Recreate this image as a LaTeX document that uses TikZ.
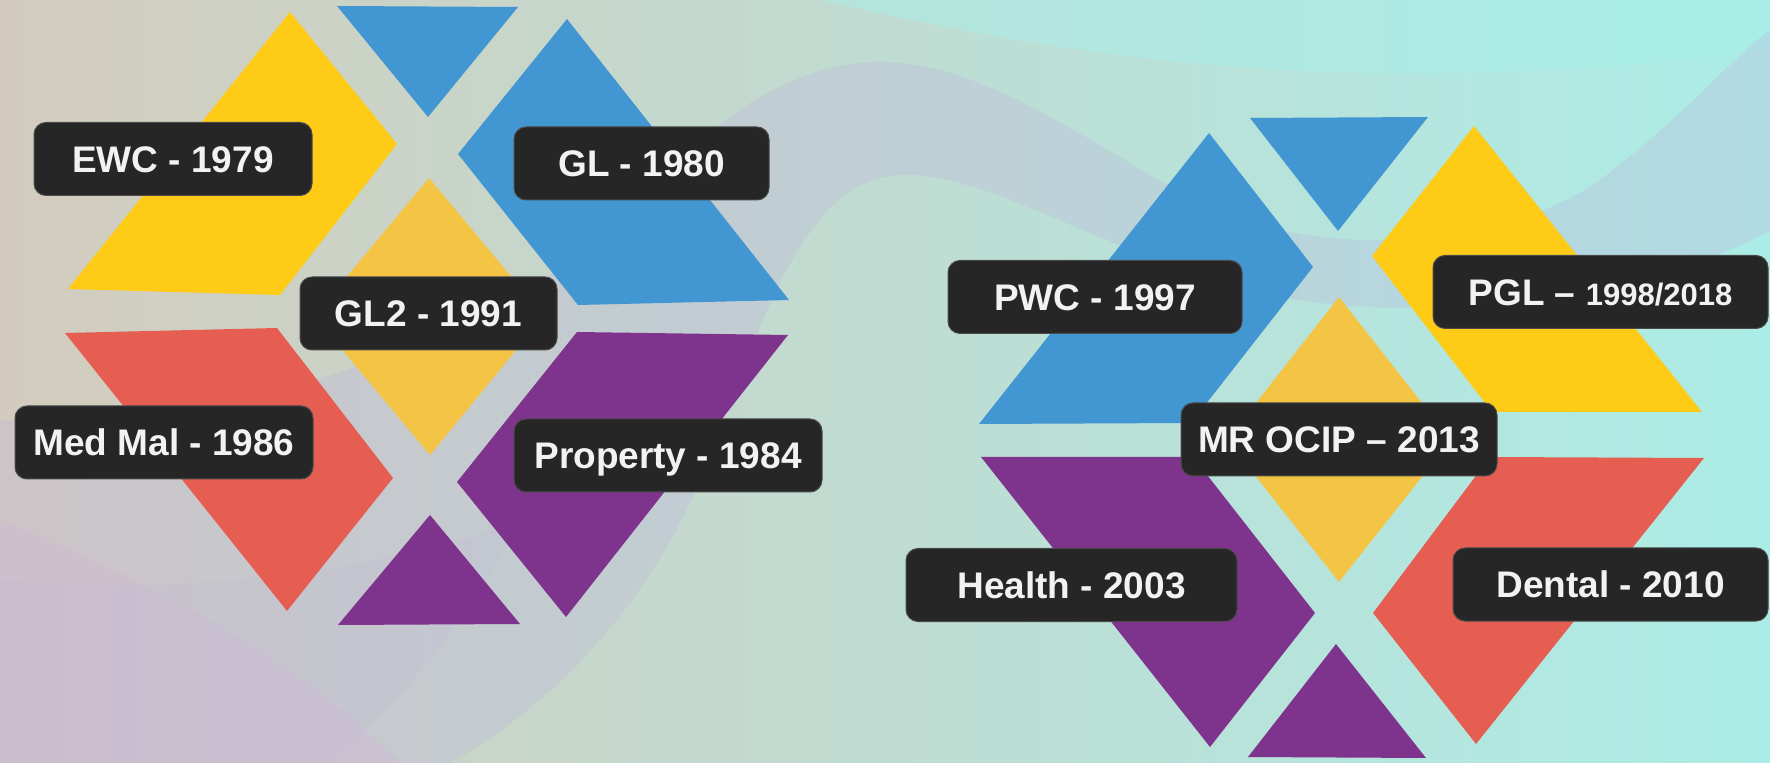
\documentclass[tikz,border=0pt]{standalone}
\usepackage{fontspec}
\setmainfont{Liberation Sans}
\definecolor{cYel}{HTML}{FECB17}
\definecolor{cLYel}{HTML}{F4C545}
\definecolor{cBlue}{HTML}{4296D2}
\definecolor{cRed}{HTML}{E65E52}
\definecolor{cPur}{HTML}{7E338C}
\definecolor{cLbl}{HTML}{262626}
\definecolor{cLblB}{HTML}{4A4A4A}
\definecolor{cTxt}{HTML}{F2F2F2}
\definecolor{bgL}{HTML}{D3CCBE}
\definecolor{bgM}{HTML}{C3DCD1}
\definecolor{bgR}{HTML}{ACECE6}
\definecolor{bgLav}{HTML}{BDB4DE}
\definecolor{bgPink}{HTML}{D9BCD0}
\definecolor{bgCyan}{HTML}{A6F0EA}
\tikzset{
  lbl/.style={fill=cLbl, draw=cLblB, line width=0.5pt, rounded corners=6pt,
    text=cTxt, font=\bfseries\fontsize{18.5}{22}\selectfont,
    minimum height=36.5pt, text height=13.2pt, text depth=0pt,
    inner sep=0pt, anchor=center},
  ribbon/.style={fill=bgLav, fill opacity=0.3}
}
\begin{document}
\begin{tikzpicture}[x=0.5pt,y=-0.5pt]
\useasboundingbox (0,0) rectangle (1770,763);
% background
\shade[left color=bgL, middle color=bgM, right color=bgR] (0,0) rectangle (1770,763);
\fill[bgCyan, fill opacity=0.45] (820,0) .. controls (1000,40) and (1300,110) .. (1770,50) -- (1770,0) -- cycle;
\fill[bgPink, fill opacity=0.4] (0,520) .. controls (150,580) and (300,660) .. (400,763) -- (0,763) -- cycle;
\fill[ribbon] (0,420) .. controls (250,430) and (520,330) .. (640,200)
  .. controls (720,110) and (800,62) .. (880,62)
  .. controls (1000,62) and (1120,170) .. (1230,215)
  .. controls (1330,255) and (1500,250) .. (1600,180)
  .. controls (1680,120) and (1730,60) .. (1770,30)
  -- (1770,230)
  .. controls (1650,300) and (1400,330) .. (1250,290)
  .. controls (1100,250) and (980,170) .. (900,175)
  .. controls (800,180) and (760,330) .. (700,480)
  .. controls (650,600) and (560,700) .. (450,763)
  -- (0,763) -- cycle;
\fill[bgLav, fill opacity=0.15] (0,580) .. controls (200,600) and (420,560) .. (520,520)
  .. controls (460,640) and (380,720) .. (330,763) -- (0,763) -- cycle;
% left cluster
\fill[cYel] (68,289) -- (290,12) -- (397,144) -- (280,295) -- cycle;
\fill[cBlue] (337,6) -- (518,7) -- (428,117) -- cycle;
\fill[cBlue] (567,19) -- (789,300) -- (578,305) -- (458,154) -- cycle;
\fill[cLYel] (429,178) -- (544,316) -- (430,455) -- (314,316) -- cycle;
\fill[cRed] (65,333) -- (277,328) -- (393,478) -- (287,611) -- cycle;
\fill[cPur] (430,515) -- (520,624) -- (338,625) -- cycle;
\fill[cPur] (577,332) -- (788,335) -- (566,617) -- (457,482) -- cycle;
% right cluster
\fill[cBlue] (1209,133) -- (1313,267) -- (1191,423) -- (979,424) -- cycle;
\fill[cBlue] (1250,118) -- (1428,117) -- (1338,231) -- cycle;
\fill[cYel] (1474,126) -- (1702,412) -- (1492,412) -- (1372,256) -- cycle;
\fill[cLYel] (1339,297) -- (1451,440) -- (1339,582) -- (1227,440) -- cycle;
\fill[cPur] (981,457) -- (1193,457) -- (1315,613) -- (1210,747) -- cycle;
\fill[cPur] (1336,644) -- (1426,758) -- (1248,757) -- cycle;
\fill[cRed] (1490,457) -- (1704,458) -- (1476,744) -- (1373,613) -- cycle;
% labels
\node[lbl, minimum width=139pt] (ewc) at (173,159) {EWC - 1979};
\node[lbl, minimum width=127.5pt] (gl) at (641.5,163.5) {GL - 1980};
\node[lbl, minimum width=128.5pt] (gl2) at (428.5,313.5) {GL2 - 1991};
\node[lbl, minimum width=149pt] (medmal) at (164,442.5) {Med Mal - 1986};
\node[lbl, minimum width=154pt] (prop) at (668,455.5) {Property - 1984};
\node[lbl, minimum width=147pt] (pwc) at (1095,297) {PWC - 1997};
\node[lbl, minimum width=167.5pt] (pgl) at (1600.5,292) {PGL – {\fontsize{15.5}{18}\selectfont 1998/2018}};
\node[lbl, minimum width=158pt] (mrocip) at (1339,439.5) {MR OCIP – 2013};
\node[lbl, minimum width=165.5pt] (health) at (1071.5,585) {Health - 2003};
\node[lbl, minimum width=157.5pt] (dental) at (1610.5,584.5) {Dental - 2010};
\end{tikzpicture}
\end{document}
